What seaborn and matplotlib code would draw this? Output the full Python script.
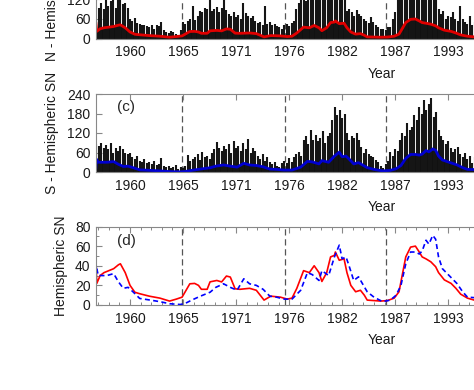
import numpy as np
import pandas as pd
import seaborn as sns
import matplotlib
matplotlib.use('Agg')
import matplotlib.pyplot as plt
from matplotlib.ticker import FixedLocator, FuncFormatter

# smoothed hemispheric sunspot numbers
n_yr = [1956.45, 1956.55, 1956.9, 1957.3, 1957.8, 1958.3, 1958.8, 1959.0, 1959.5, 1960.0,
        1960.5, 1961.0, 1962.0, 1963.1, 1964.1, 1964.8, 1965.4, 1966.2, 1966.7, 1967.1,
        1967.4, 1968.0, 1968.3, 1969.0, 1969.5, 1970.0, 1970.4, 1970.9, 1971.4, 1972.4,
        1973.1, 1973.9, 1974.6, 1975.6, 1976.3, 1976.8, 1977.3, 1978.0, 1978.6, 1979.1,
        1979.6, 1979.9, 1980.4, 1980.8, 1981.2, 1981.3, 1981.7, 1982.2, 1982.5, 1982.9,
        1983.4, 1983.9, 1984.3, 1984.6, 1986.0, 1986.7, 1987.4, 1987.9, 1988.2, 1988.6,
        1989.1, 1989.6, 1990.0, 1990.3, 1990.7, 1991.2, 1991.7, 1992.0, 1992.6, 1993.3,
        1993.8, 1994.3, 1995.0, 1995.7, 1996.5]
n_sm = [50, 22, 30, 33, 35, 37, 41, 42, 33, 20,
        13, 11.5, 9, 7, 4, 6, 8, 21.6, 22, 20,
        16, 16, 23.6, 25, 23.5, 29.5, 28.5, 16.5, 16, 17,
        15, 5, 9, 8, 6, 7, 17, 35, 33, 40,
        33, 24, 33, 49, 50.6, 54, 45.6, 47, 33, 20,
        13.5, 15, 10, 5, 4, 4.5, 7, 13.5, 28.7, 49,
        59, 60, 54, 49, 47, 44, 39, 33, 25.6, 22,
        17, 11, 7, 5, 4]

s_yr = [1956.45, 1956.5, 1956.7, 1957.6, 1958.3, 1958.8, 1959.3, 1959.8, 1960.3, 1961.0,
        1962.1, 1963.1, 1964.1, 1965.2, 1965.7, 1966.4, 1967.3, 1968.3, 1968.9, 1969.7,
        1970.4, 1971.1, 1971.8, 1972.4, 1973.1, 1973.8, 1974.5, 1975.2, 1976.0, 1976.8,
        1977.7, 1978.4, 1978.9, 1979.6, 1979.9, 1980.6, 1981.2, 1981.7, 1982.0, 1982.4,
        1982.7, 1983.2, 1983.7, 1984.3, 1984.6, 1985.3, 1986.2, 1987.0, 1987.6, 1988.1,
        1988.6, 1989.1, 1989.6, 1990.0, 1990.3, 1990.7, 1991.0, 1991.4, 1991.7, 1992.0,
        1992.4, 1992.9, 1993.4, 1993.9, 1994.5, 1995.0, 1995.7, 1996.5]
s_sm = [9, 40, 30, 30, 32, 23.6, 17, 18, 13.5, 6.7,
        5, 3.4, 1.3, 0.5, 1.5, 5, 9, 13, 18, 21.6,
        18, 15, 26.7, 21.6, 20, 16, 9, 8, 6, 6,
        15, 33, 31, 25, 35, 30, 49, 61, 47, 49,
        40.5, 25, 28.7, 18.5, 13.5, 8, 3.4, 5, 10, 20,
        42, 54, 54, 52, 55, 66, 62, 71, 67, 49,
        37, 32, 27, 22, 13.5, 8, 7.5, 6]

# daily-data spike tops, one value per quarter year from 1956.5
n_peak = [60, 95,
          110, 90, 125, 100,   115, 130, 95, 120,   150, 105, 110, 95,   60, 55, 63, 48,
          45, 40, 42, 38,      35, 42, 30, 40,      38, 52, 25, 20,      18, 22, 20, 15,
          12, 25, 50, 45,      55, 60, 99, 58,      70, 85, 80, 95,      90, 125, 85, 92,
          98, 80, 95, 130,     88, 75, 70, 80,      65, 72, 60, 110,     78, 68, 62, 70,
          55, 48, 50, 42,      99, 45, 52, 40,      44, 38, 35, 30,      40, 45, 37, 48,
          55, 90, 110, 125,    130, 115, 140, 125,  150, 130, 125, 160,  140, 120, 150, 135,
          160, 140, 130, 145,  125, 130, 85, 90,    80, 70, 88, 75,      70, 60, 55, 48,
          65, 50, 40, 35,      30, 28, 25, 35,      35, 60, 80, 120,     150, 160, 140, 170,
          180, 150, 165, 140,  150, 130, 160, 125,  140, 125, 150, 130,  90, 75, 85, 60,
          70, 65, 80, 60,      55, 100, 60, 50,     45, 70, 40, 50,      40]
s_peak = [85, 80,
          89, 75, 82, 70,      88, 60, 75, 65,      80, 70, 60, 55,      58, 45, 40, 50,
          35, 31, 40, 28,      30, 25, 35, 22,      25, 43, 20, 15,      18, 12, 15, 22,
          10, 15, 12, 18,      52, 35, 40, 45,      55, 38, 62, 45,      50, 40, 60, 70,
          93, 75, 65, 80,      70, 85, 60, 96,      75, 80, 65, 90,      70, 101, 60, 75,
          65, 50, 40, 55,      35, 45, 30, 25,      30, 20, 15, 28,      35, 28, 43, 30,
          46, 55, 62, 50,      98, 110, 85, 129,    100, 115, 95, 105,   125, 88, 110, 120,
          160, 201, 175, 190,  165, 180, 120, 98,   110, 105, 120, 100,  77, 60, 70, 55,
          50, 46, 37, 30,      20, 12, 25, 35,      62, 50, 71, 65,      98, 120, 110, 150,
          130, 140, 175, 160,  200, 180, 222, 190,  210, 227, 170, 185,  129, 110, 100, 85,
          95, 75, 62, 70,      77, 55, 45, 60,      40, 50, 28, 45,      30]
peak_yr = 1956.5 + 0.25 * np.arange(len(n_peak))

minima = [1965.4, 1976.1, 1986.5]
major_ticks = [1960 + 5.5 * k for k in range(7)]
minor_ticks = [1956.7 + 1.1 * k for k in range(36)]

sns.set_theme(style='ticks')
plt.rcParams['font.family'] = ['Liberation Sans', 'DejaVu Sans']
plt.rcParams['font.size'] = 10

fig = plt.figure(figsize=(4.74, 3.9), dpi=100)
W = 572 / 474
axA = fig.add_axes([96 / 474, 351.5 / 390, W, 78 / 390])
axC = fig.add_axes([96 / 474, 218 / 390, W, 78 / 390])
axD = fig.add_axes([96 / 474, 85 / 390, W, 78.5 / 390])

axA.fill_between(n_yr, 0, n_sm, color='#111111', lw=0)
axA.vlines(peak_yr, 0, n_peak, color='#151515', lw=1.5)
sns.lineplot(x=n_yr, y=n_sm, ax=axA, color='#e00000', lw=2)
axC.fill_between(s_yr, 0, s_sm, color='#111111', lw=0)
axC.vlines(peak_yr, 0, s_peak, color='#151515', lw=1.5)
sns.lineplot(x=s_yr, y=s_sm, ax=axC, color='#0000d0', lw=2)
sns.lineplot(x=n_yr, y=n_sm, ax=axD, color='#ff0000', lw=1.2)
sns.lineplot(x=s_yr, y=s_sm, ax=axD, color='#0000ff', lw=1.2, linestyle=(0, (3, 2)))

for ax, ylab, yt, lx in [(axA, 'N - Hemispheric SN', [0, 60, 120, 180, 240], -0.065),
                         (axC, 'S - Hemispheric SN', [0, 60, 120, 180, 240], -0.065),
                         (axD, 'Hemispheric SN', [0, 20, 40, 60, 80], -0.049)]:
    for m in minima:
        ax.axvline(m, color='#555555', lw=0.9, ls=(0, (5, 3)), zorder=0)
    ax.set_xlim(1956.47, 2015.8)
    ax.set_ylim(yt[0], yt[-1])
    ax.set_yticks(yt)
    ax.xaxis.set_major_locator(FixedLocator(major_ticks))
    ax.xaxis.set_major_formatter(FuncFormatter(lambda v, p: str(int(np.floor(v + 1e-6)))))
    ax.tick_params(direction='in', length=4, width=0.8, colors='#888888',
                   labelcolor='#1a1a1a', labelsize=10, top=True, right=True, pad=4)
    ax.tick_params(axis='x', pad=5)
    for sp in ax.spines.values():
        sp.set_visible(True)
        sp.set_color('#888888')
        sp.set_linewidth(0.8)
    ax.set_xlabel('Year', fontsize=10, color='#1a1a1a')
    ax.xaxis.set_label_coords(0.5, -0.36)
    ax.set_ylabel(ylab, fontsize=10, color='#1a1a1a')
    ax.yaxis.set_label_coords(lx, 0.5)

axD.xaxis.set_minor_locator(FixedLocator(minor_ticks))
axD.yaxis.set_minor_locator(FixedLocator(list(range(10, 80, 20))))
axD.tick_params(which='minor', direction='in', length=2.5, width=0.7, colors='#888888',
                top=True, right=True)

axC.text(0.036, 0.83, '(c)', transform=axC.transAxes, fontsize=11, va='center')
axD.text(0.036, 0.81, '(d)', transform=axD.transAxes, fontsize=11, va='center')

fig.savefig('out.png', dpi=100)
